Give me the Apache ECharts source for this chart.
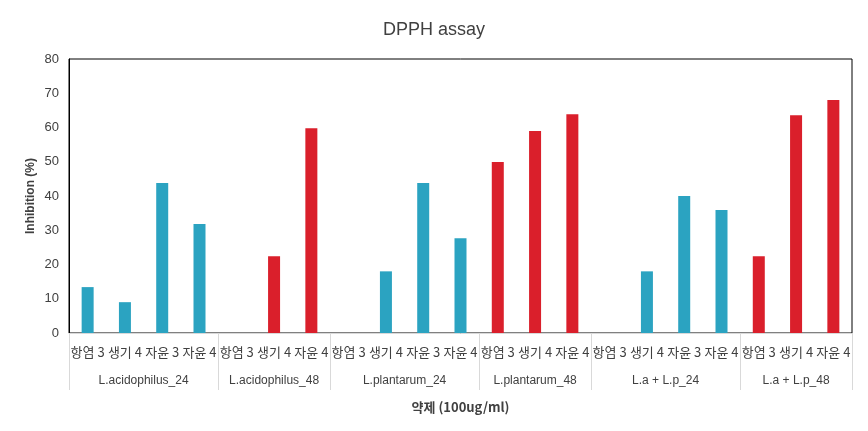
<!DOCTYPE html>
<html>
<head>
<meta charset="utf-8">
<script src="https://cdn.jsdelivr.net/npm/echarts@6/dist/echarts.min.js"></script>
<style>html,body{margin:0;padding:0;background:#fff}#c{width:868px;height:431px}</style>
</head>
<body>
<div id="c"></div>
<script>
var categories = ['항염 3','생기 4','자윤 3','자윤 4','항염 3','생기 4','자윤 4','항염 3','생기 4','자윤 3','자윤 4','항염 3','생기 4','자윤 4','항염 3','생기 4','자윤 3','자윤 4','항염 3','생기 4','자윤 4'];
var groupNames = ['L.acidophilus_24','L.acidophilus_48','L.plantarum_24','L.plantarum_48','L.a + L.p_24','L.a + L.p_48'];
var groupSizes = [4,3,4,3,4,3];
var blueValues = [13.4, 9.0, 43.8, 31.8, null, null, null, null, 18.0, 43.8, 27.7, null, null, null, null, 18.0, 40.0, 35.9, null, null, null];
var redValues  = [null, null, null, null, null, 22.4, 59.8, null, null, null, null, 49.9, 59.0, 63.9, null, null, null, null, 22.4, 63.6, 68.0];
var yTicks = [0,10,20,30,40,50,60,70,80];

var bounds = [0], mids = [];
groupSizes.forEach(function(s){ var b = bounds[bounds.length-1]; mids.push(b + s/2); bounds.push(b + s); });

var chart = echarts.init(document.getElementById('c'));
chart.setOption({
  animation: false,
  title: { text: 'DPPH assay', left: 'center', top: 16, textStyle: { fontSize: 18, fontWeight: 'normal', color: '#404040', fontFamily: 'Liberation Sans, Arial' } },
  grid: { left: 69, right: 16, top: 59, bottom: 98, show: true, borderColor: '#000', borderWidth: 1, backgroundColor: 'transparent' },
  xAxis: [
    { type: 'category', data: categories,
      axisLine: { lineStyle: { color: '#d9d9d9' } },
      axisTick: { show: false },
      axisLabel: { interval: 0, margin: 13, fontSize: 13, color: '#404040', fontFamily: 'Noto Sans CJK KR' },
      name: '약제 (100ug/ml)', nameLocation: 'middle', nameGap: 68, nameMoveOverlap: false,
      nameTextStyle: { fontSize: 13, fontWeight: 'bold', color: '#404040', fontFamily: 'Noto Sans CJK KR' }
    },
    { type: 'value', min: 0, max: categories.length, position: 'bottom',
      axisLine: { show: false }, splitLine: { show: false },
      axisTick: { show: true, customValues: bounds, length: 57, lineStyle: { color: '#d9d9d9' } },
      axisLabel: { customValues: mids, margin: 42, fontSize: 12, color: '#404040', fontFamily: 'Liberation Sans, Arial',
        formatter: function(v){ var i = mids.indexOf(v); return i >= 0 ? groupNames[i] : ''; } }
    }
  ],
  yAxis: { type: 'value', min: 0, max: 80, interval: 10,
    axisLine: { show: true, lineStyle: { color: '#000' } },
    axisTick: { show: false }, splitLine: { show: false },
    axisLabel: { fontSize: 13, color: '#404040', margin: 10, fontFamily: 'Liberation Sans, Arial' },
    name: 'Inhibition (%)', nameLocation: 'middle', nameGap: 32, nameRotate: 90, nameMoveOverlap: false,
    nameTextStyle: { fontSize: 12, fontWeight: 'bold', color: '#404040', fontFamily: 'Liberation Sans, Arial' }
  },
  series: [
    { type: 'bar', data: blueValues, barWidth: 12, barGap: '-100%', itemStyle: { color: '#2ba3c1' } },
    { type: 'bar', data: redValues, barWidth: 12, barGap: '-100%', itemStyle: { color: '#da1f2b' } }
  ]
});
</script>
</body>
</html>
